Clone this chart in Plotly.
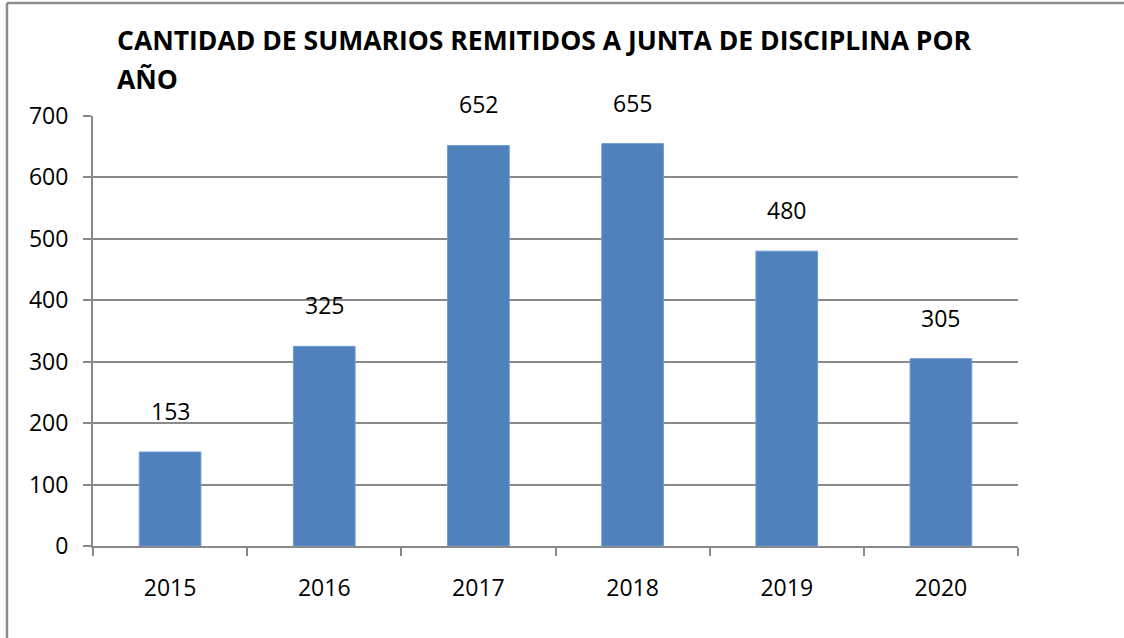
import plotly.graph_objects as go

years = ["2015", "2016", "2017", "2018", "2019", "2020"]
values = [153, 325, 652, 655, 480, 305]
y_ticks = [0, 100, 200, 300, 400, 500, 600, 700]
title_lines = ["CANTIDAD DE SUMARIOS REMITIDOS A JUNTA DE DISCIPLINA POR", "AÑO"]

FONT = "Open Sans"
GRID = "#8a8a8a"

fig = go.Figure()
fig.add_trace(go.Bar(
    x=years, y=values,
    marker=dict(color="#4F81BD", line=dict(color="#6f9bd1", width=1)),
    width=0.4,
    hoverinfo="skip",
))

for i, v in enumerate(values):
    fig.add_annotation(x=i, y=v, text=str(v), showarrow=False,
                       yanchor="middle", yshift=41,
                       font=dict(family=FONT, size=23, color="black"))

for line, ypos in zip(title_lines, [1.1767, 1.0849]):
    fig.add_annotation(xref="paper", yref="paper", x=0.024, y=ypos,
                       xanchor="left", yanchor="middle", align="left",
                       text="<b>" + line + "</b>", showarrow=False,
                       font=dict(family=FONT, size=26.5, color="black"))

# outer chart border (left and top)
fig.add_shape(type="line", xref="paper", yref="paper",
              x0=-0.093, x1=-0.093, y0=-0.3, y1=1.2628,
              line=dict(color="#8c8c8c", width=2.5))
fig.add_shape(type="line", xref="paper", yref="paper",
              x0=-0.093, x1=1.2, y0=1.2628, y1=1.2628,
              line=dict(color="#8c8c8c", width=2.5))

fig.update_layout(
    width=1124, height=638,
    margin=dict(l=93, r=106, t=116, b=92),
    paper_bgcolor="white", plot_bgcolor="white",
    showlegend=False,
    font=dict(family=FONT, color="black"),
    xaxis=dict(
        type="category",
        range=[-0.5, len(years) - 0.5],
        showline=True, linecolor=GRID, linewidth=2,
        ticks="outside", tickson="boundaries", ticklen=8, tickcolor=GRID, tickwidth=2,
        showgrid=False, tickangle=0,
        tickfont=dict(family=FONT, size=23, color="black"),
        ticklabelstandoff=20,
    ),
    yaxis=dict(
        range=[0, 700],
        tickvals=y_ticks,
        showline=True, linecolor=GRID, linewidth=2,
        ticks="outside", ticklen=8, tickcolor=GRID, tickwidth=2,
        showgrid=True, gridcolor=GRID, gridwidth=1.5,
        zeroline=False,
        tickfont=dict(family=FONT, size=23, color="black"),
        ticklabelstandoff=10,
    ),
)

fig.write_html("out.html")
